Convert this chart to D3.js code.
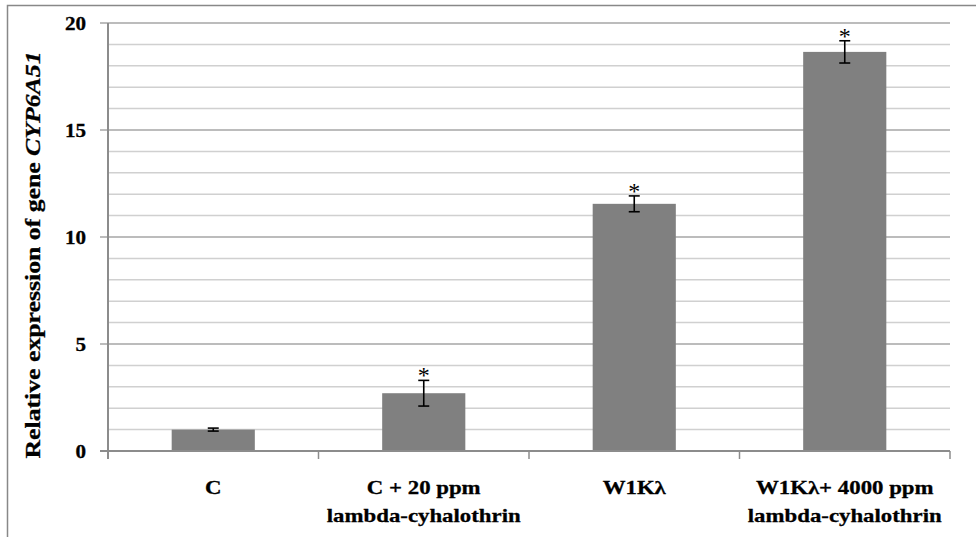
<!DOCTYPE html>
<html><head><meta charset="utf-8">
<script src="https://cdn.jsdelivr.net/npm/d3@7"></script>
<style>body{margin:0;background:#fff}svg{display:block}</style>
</head><body>
<script>
const categories = [["C"], ["C + 20 ppm", "lambda-cyhalothrin"], ["W1Kλ"], ["W1Kλ+ 4000 ppm", "lambda-cyhalothrin"]];
const values = [1.0, 2.7, 11.55, 18.65];
const errors = [0.07, 0.6, 0.37, 0.52];
const significant = [false, true, true, true];
const yTicks = [0, 5, 10, 15, 20];
const yTitle = "Relative expression of gene ";
const yTitleItalic = "CYP6A51";

const W = 976, H = 537;
const m = {left: 108, right: 26, top: 23, bottom: 86};
const svg = d3.select("body").append("svg").attr("width", W).attr("height", H);
svg.append("rect").attr("x", 7.5).attr("y", 5.5).attr("width", 975).attr("height", 540)
  .attr("fill", "none").attr("stroke", "#888").attr("stroke-width", 1.5);

const x = d3.scaleBand().domain(d3.range(categories.length)).range([m.left, W - m.right]).paddingInner(0.605).paddingOuter(0.3025);
const xb = d3.scaleBand().domain(d3.range(categories.length)).range([m.left, W - m.right]);
const y = d3.scaleLinear().domain([0, 20]).range([H - m.bottom, m.top]);
const font = "'Liberation Serif','Times New Roman',serif";
const stretch = 1.17; // reference glyphs are wider than Liberation Serif
function widen(sel) {
  sel.each(function () {
    const L = this.getComputedTextLength();
    d3.select(this).attr("textLength", L * stretch).attr("lengthAdjust", "spacingAndGlyphs")
      .attr("stroke", "#000").attr("stroke-width", 0.3);
  });
}

// gridlines
const g = svg.append("g");
g.selectAll("line.minor").data(d3.range(1, 20).filter(v => v % 5 !== 0)).join("line")
  .attr("x1", m.left).attr("x2", W - m.right).attr("y1", d => y(d)).attr("y2", d => y(d))
  .attr("stroke", "#d0d0d0").attr("stroke-width", 1.5);
g.selectAll("line.major").data(yTicks.filter(v => v > 0)).join("line")
  .attr("x1", m.left - 8).attr("x2", W - m.right).attr("y1", d => y(d)).attr("y2", d => y(d))
  .attr("stroke", "#a6a6a6").attr("stroke-width", 1.5);

// bars
svg.selectAll("rect.bar").data(values).join("rect")
  .attr("x", (d, i) => x(i)).attr("width", x.bandwidth())
  .attr("y", d => y(d)).attr("height", d => y(0) - y(d)).attr("fill", "#808080");

// error bars + significance stars
const eb = svg.append("g").attr("stroke", "#000").attr("stroke-width", 1.6);
values.forEach((v, i) => {
  const cx = x(i) + x.bandwidth() / 2;
  const top = y(v + errors[i]), bot = y(v - errors[i]);
  eb.append("line").attr("x1", cx).attr("x2", cx).attr("y1", top).attr("y2", bot);
  eb.append("line").attr("x1", cx - 5.5).attr("x2", cx + 5.5).attr("y1", top).attr("y2", top);
  eb.append("line").attr("x1", cx - 5.5).attr("x2", cx + 5.5).attr("y1", bot).attr("y2", bot);
  if (significant[i]) {
    svg.append("text").attr("x", cx).attr("y", top + 3).attr("text-anchor", "middle")
      .attr("font-family", font).attr("font-size", 24).text("*");
  }
});

// axes
svg.append("line").attr("x1", m.left).attr("x2", m.left).attr("y1", y(20)).attr("y2", y(0) + 8)
  .attr("stroke", "#8c8c8c").attr("stroke-width", 2);
svg.append("line").attr("x1", m.left - 8).attr("x2", W - m.right).attr("y1", y(0)).attr("y2", y(0))
  .attr("stroke", "#8c8c8c").attr("stroke-width", 2);
svg.selectAll("line.xt").data(d3.range(1, categories.length + 1)).join("line")
  .attr("x1", d => xb(0) + d * xb.bandwidth()).attr("x2", d => xb(0) + d * xb.bandwidth())
  .attr("y1", y(0)).attr("y2", y(0) + 8).attr("stroke", "#8c8c8c").attr("stroke-width", 1.5);

svg.selectAll("text.yt").data(yTicks).join("text")
  .attr("x", 86).attr("y", d => y(d) + 6.5).attr("text-anchor", "end")
  .attr("font-family", font).attr("font-weight", "bold").attr("font-size", 18).text(d => d)
  .call(widen);

categories.forEach((lines, i) => {
  const cx = xb(i) + xb.bandwidth() / 2;
  lines.forEach((t, j) => {
    svg.append("text").attr("x", cx).attr("y", 494 + j * 27.5).attr("text-anchor", "middle")
      .attr("font-family", font).attr("font-weight", "bold").attr("font-size", 19.5).text(t)
      .call(widen);
  });
});

const tt = svg.append("text").attr("transform", `translate(40,${(y(0) + y(20)) / 2 + 18}) rotate(-90)`)
  .attr("text-anchor", "middle").attr("font-family", font).attr("font-weight", "bold").attr("font-size", 22);
tt.append("tspan").text(yTitle);
tt.append("tspan").attr("font-style", "italic").text(yTitleItalic);
widen(tt);
</script>
</body></html>
